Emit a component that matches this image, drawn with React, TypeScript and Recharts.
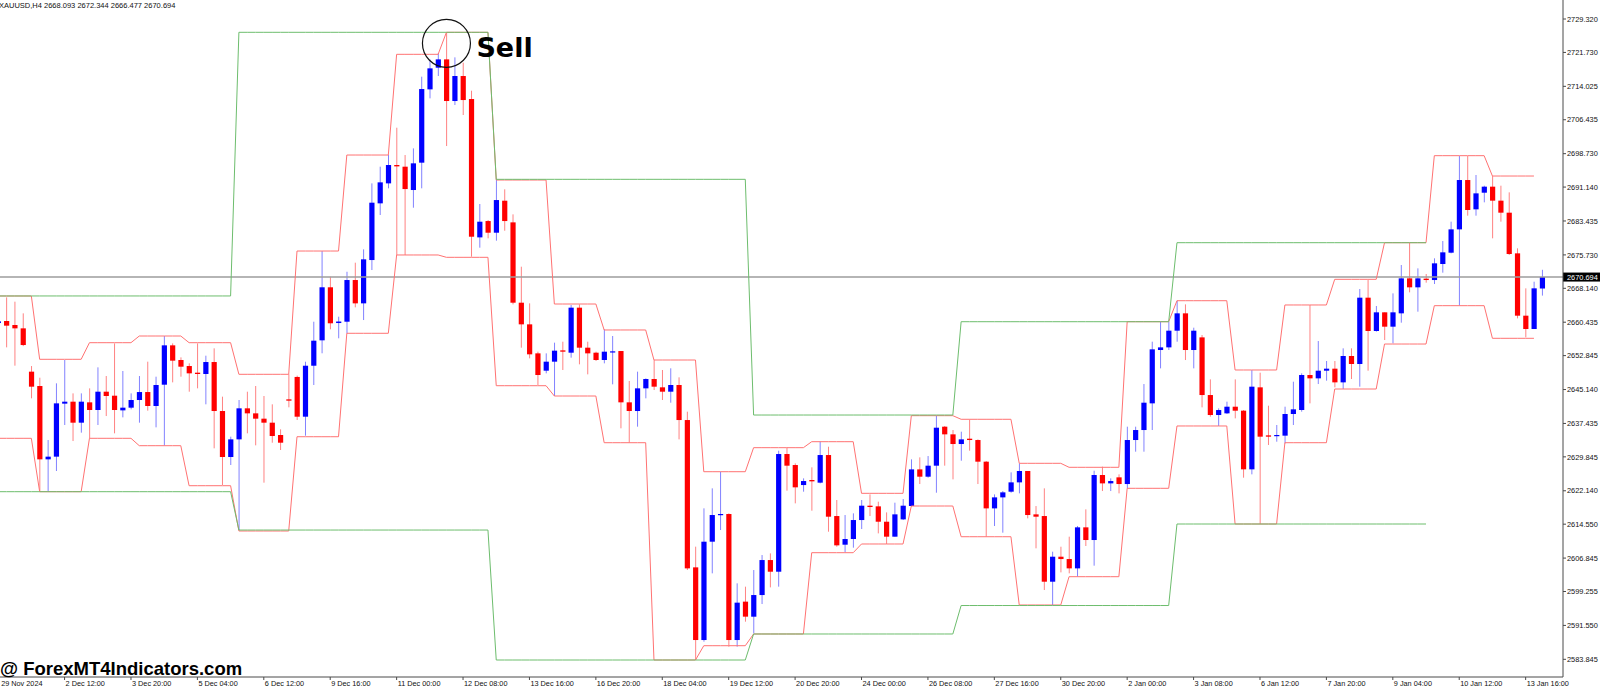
import React from 'react';
import {
  ComposedChart,
  Bar,
  Line,
  XAxis,
  YAxis,
  ReferenceLine,
  ReferenceDot,
} from 'recharts';

// XAUUSD H4 candles (index 0 = leftmost bar)
const open = [
  2660.25, 2660.71, 2659.8, 2659.04, 2649.2, 2645.94, 2629.28, 2629.89, 2641.93, 2642.38,
  2637.61, 2642.23, 2640.49, 2644.65, 2643.74, 2640.41, 2641.02, 2642.76, 2644.57, 2641.4,
  2646.24, 2655.18, 2651.85, 2650.48, 2648.97, 2648.67, 2651.39, 2640.26, 2629.81, 2633.82,
  2640.87, 2639.73, 2638.52, 2637.61, 2634.81, 2642.91, 2648.0, 2638.97, 2650.55, 2656.32,
  2668.37, 2660.25, 2660.55, 2670.02, 2664.72, 2674.56, 2687.44, 2691.98, 2696.15, 2695.77,
  2690.47, 2696.68, 2713.34, 2718.26, 2720.15, 2710.69, 2716.37, 2711.14, 2679.71, 2683.42,
  2680.77, 2688.04, 2683.12, 2664.87, 2659.95, 2653.36, 2649.42, 2651.47, 2654.04, 2653.51,
  2663.74, 2654.65, 2653.51, 2651.85, 2653.66, 2653.89, 2642.23, 2640.26, 2645.41, 2647.53,
  2645.64, 2644.65, 2646.17, 2638.21, 2604.74, 2588.23, 2610.57, 2616.63, 2616.86, 2588.23,
  2596.95, 2593.53, 2598.45, 2606.4, 2603.75, 2630.49, 2627.99, 2623.44, 2624.58, 2623.98,
  2630.26, 2616.4, 2609.89, 2611.18, 2615.49, 2618.75, 2618.6, 2615.11, 2611.71, 2615.64,
  2618.68, 2627.0, 2625.34, 2627.84, 2636.7, 2634.96, 2632.76, 2633.97, 2633.67, 2628.75,
  2618.14, 2620.64, 2621.93, 2624.05, 2626.63, 2616.78, 2616.4, 2601.48, 2607.16, 2606.63,
  2604.51, 2613.83, 2610.95, 2625.72, 2623.82, 2625.19, 2623.67, 2633.67, 2635.94, 2642.0,
  2654.12, 2654.72, 2658.51, 2662.45, 2654.12, 2656.99, 2643.89, 2639.35, 2639.73, 2641.24,
  2640.34, 2627.01, 2645.64, 2634.73, 2634.58, 2634.66, 2639.58, 2640.49, 2648.44, 2647.68,
  2649.42, 2649.88, 2646.77, 2652.76, 2650.94, 2666.01, 2658.44, 2662.68, 2659.42, 2662.45,
  2670.4, 2668.36, 2670.33, 2670.02, 2673.66, 2676.23, 2681.53, 2692.74, 2686.08, 2689.86,
  2691.23, 2688.05, 2685.32, 2676.08, 2661.92, 2658.89, 2668.093,
];

const high = [
  2661.54, 2666.08, 2665.1, 2662.45, 2650.48, 2647.83, 2633.67, 2646.55, 2651.85, 2644.27,
  2644.27, 2645.41, 2650.18, 2648.21, 2655.63, 2649.35, 2644.27, 2648.21, 2651.47, 2648.06,
  2657.3, 2655.63, 2652.45, 2651.09, 2655.63, 2652.83, 2654.5, 2643.52, 2634.43, 2642.76,
  2644.65, 2645.94, 2643.67, 2641.78, 2636.1, 2648.6, 2648.3, 2651.46, 2660.55, 2676.61,
  2670.77, 2661.69, 2671.9, 2673.96, 2676.99, 2691.98, 2695.77, 2698.42, 2704.63, 2698.42,
  2699.93, 2716.22, 2720.15, 2721.52, 2726.29, 2720.61, 2719.4, 2713.03, 2687.29, 2683.65,
  2692.89, 2690.63, 2684.94, 2673.05, 2664.72, 2653.74, 2653.36, 2655.79, 2656.01, 2664.34,
  2664.49, 2656.01, 2653.74, 2658.82, 2657.3, 2653.89, 2647.08, 2649.2, 2647.68, 2651.85,
  2649.58, 2649.96, 2647.91, 2640.11, 2609.44, 2618.15, 2622.69, 2626.48, 2617.01, 2601.11,
  2600.35, 2604.13, 2607.54, 2607.92, 2631.24, 2631.93, 2628.37, 2624.96, 2627.46, 2633.29,
  2632.15, 2620.04, 2616.63, 2617.01, 2620.04, 2621.32, 2619.66, 2617.23, 2619.43, 2620.26,
  2629.28, 2629.73, 2630.03, 2639.2, 2636.85, 2635.94, 2635.56, 2638.36, 2633.82, 2628.9,
  2621.32, 2622.08, 2626.32, 2628.37, 2626.63, 2618.67, 2622.69, 2608.3, 2609.43, 2611.71,
  2614.13, 2617.92, 2626.7, 2627.61, 2624.96, 2625.87, 2636.7, 2636.7, 2646.39, 2656.01,
  2660.55, 2660.55, 2665.32, 2664.49, 2659.19, 2657.52, 2647.45, 2640.86, 2642.38, 2647.45,
  2640.49, 2649.57, 2648.97, 2641.47, 2637.08, 2641.24, 2646.92, 2648.82, 2664.34, 2656.16,
  2651.62, 2651.62, 2654.5, 2654.5, 2667.98, 2670.02, 2664.12, 2662.68, 2666.99, 2673.43,
  2678.5, 2672.67, 2671.39, 2674.95, 2678.88, 2683.28, 2698.19, 2698.19, 2693.88, 2691.45,
  2693.65, 2691.45, 2689.94, 2677.22, 2668.13, 2669.64, 2672.344,
];

const low = [
  2659.27, 2654.72, 2650.56, 2655.0, 2643.14, 2621.93, 2621.93, 2626.63, 2637.08, 2633.44,
  2635.34, 2634.05, 2637.08, 2639.12, 2635.19, 2638.82, 2640.64, 2637.61, 2640.34, 2636.55,
  2632.38, 2646.77, 2648.06, 2644.65, 2645.41, 2641.78, 2631.78, 2623.45, 2627.99, 2613.22,
  2635.19, 2632.46, 2623.98, 2633.06, 2631.4, 2641.1, 2638.22, 2634.65, 2646.17, 2653.37,
  2658.82, 2656.78, 2657.91, 2663.81, 2660.93, 2672.29, 2684.79, 2690.85, 2675.7, 2675.7,
  2686.45, 2690.85, 2711.29, 2716.37, 2700.46, 2709.78, 2707.51, 2675.32, 2677.37, 2679.49,
  2678.96, 2681.22, 2664.49, 2654.65, 2652.22, 2646.17, 2648.82, 2643.67, 2649.58, 2652.38,
  2650.86, 2648.59, 2651.62, 2651.09, 2646.32, 2636.33, 2633.07, 2636.7, 2643.14, 2645.03,
  2642.76, 2642.15, 2633.82, 2604.14, 2583.69, 2587.86, 2603.38, 2613.22, 2586.72, 2586.72,
  2592.4, 2589.74, 2596.41, 2600.19, 2600.35, 2622.16, 2619.28, 2621.93, 2617.61, 2623.82,
  2612.84, 2609.43, 2608.15, 2609.21, 2613.45, 2616.4, 2612.46, 2610.04, 2611.71, 2615.49,
  2618.6, 2623.67, 2625.11, 2621.7, 2627.84, 2624.73, 2628.97, 2631.24, 2623.67, 2611.71,
  2614.13, 2612.62, 2621.7, 2621.55, 2615.87, 2609.06, 2599.59, 2596.18, 2603.6, 2603.38,
  2602.62, 2609.59, 2605.12, 2622.08, 2622.08, 2621.55, 2622.7, 2631.02, 2631.02, 2635.94,
  2649.95, 2654.12, 2656.01, 2651.84, 2649.95, 2641.09, 2638.97, 2636.85, 2639.58, 2638.59,
  2625.11, 2625.87, 2614.59, 2632.54, 2633.29, 2632.91, 2637.08, 2640.11, 2642.0, 2646.39,
  2647.15, 2645.64, 2645.26, 2647.53, 2645.79, 2649.42, 2658.29, 2656.39, 2655.63, 2660.33,
  2667.22, 2662.83, 2669.42, 2669.11, 2671.69, 2676.08, 2664.19, 2684.64, 2684.64, 2687.67,
  2679.49, 2683.28, 2675.7, 2661.31, 2657.0, 2658.89, 2666.477,
];

const close = [
  2660.63, 2659.65, 2659.04, 2655.25, 2645.79, 2629.28, 2629.89, 2642.0, 2642.38, 2637.61,
  2642.38, 2640.49, 2644.65, 2643.67, 2640.49, 2641.02, 2642.76, 2644.57, 2641.4, 2646.17,
  2655.18, 2651.7, 2650.33, 2648.82, 2648.67, 2651.39, 2640.26, 2629.81, 2633.82, 2640.87,
  2639.73, 2638.52, 2637.61, 2634.58, 2633.06, 2642.61, 2638.97, 2650.55, 2656.24, 2668.37,
  2660.19, 2660.59, 2670.02, 2664.72, 2674.72, 2687.59, 2692.21, 2696.15, 2695.84, 2690.69,
  2696.53, 2713.41, 2718.11, 2720.15, 2710.69, 2716.37, 2710.91, 2679.86, 2683.27, 2680.77,
  2688.19, 2683.42, 2664.87, 2659.95, 2653.14, 2648.44, 2651.47, 2653.97, 2653.74, 2663.74,
  2654.65, 2653.36, 2651.85, 2653.74, 2653.82, 2642.23, 2640.26, 2645.41, 2647.53, 2645.79,
  2644.65, 2646.17, 2638.21, 2604.51, 2588.23, 2610.57, 2616.63, 2616.86, 2588.23, 2596.72,
  2593.54, 2598.45, 2606.4, 2603.75, 2630.49, 2627.84, 2622.92, 2624.35, 2624.28, 2630.26,
  2616.25, 2609.74, 2611.18, 2615.49, 2618.75, 2618.45, 2615.11, 2611.71, 2616.78, 2618.75,
  2627.0, 2625.34, 2627.84, 2636.47, 2634.96, 2632.76, 2633.82, 2633.67, 2628.75, 2618.14,
  2620.64, 2621.78, 2624.05, 2626.63, 2616.63, 2616.25, 2601.48, 2607.16, 2606.63, 2604.51,
  2613.83, 2610.95, 2625.72, 2623.82, 2624.35, 2623.67, 2633.67, 2635.94, 2642.15, 2654.27,
  2654.72, 2658.51, 2662.45, 2654.12, 2658.51, 2643.89, 2639.35, 2640.48, 2641.24, 2640.33,
  2627.01, 2645.79, 2634.43, 2634.43, 2634.81, 2639.58, 2640.64, 2648.44, 2647.68, 2649.42,
  2649.88, 2646.77, 2652.76, 2650.94, 2666.01, 2658.44, 2662.68, 2659.42, 2662.68, 2670.4,
  2668.36, 2670.4, 2670.02, 2673.81, 2676.31, 2681.53, 2692.74, 2685.93, 2689.71, 2691.23,
  2688.05, 2685.32, 2675.93, 2661.92, 2658.89, 2668.13, 2670.694,
];

// daily high / low channel (red): bars per day, then the level for that day
const dayBars = [5, 6, 6, 6, 6, 7, 6, 6, 6, 6, 7, 6, 6, 6, 6, 7, 6, 6, 6, 7, 6, 7, 6, 7, 6, 6, 6, 6, 7, 6];
const dayHigh = [
  2666.39, 2652.01, 2655.78, 2657.3, 2655.78, 2648.6, 2676.61, 2698.42, 2721.3, 2726.3,
  2692.74, 2664.57, 2658.67, 2651.85, 2626.47, 2631.93, 2633.29, 2621.56, 2639.2, 2638.38,
  2628.38, 2627.47, 2660.55, 2665.32, 2649.58, 2664.35, 2670.18, 2678.5, 2698.27, 2693.65,
];
const dayLow = [
  2634.06, 2621.93, 2634.06, 2632.38, 2623.29, 2613.0, 2634.42, 2657.92, 2675.71, 2675.18,
  2646.01, 2643.67, 2633.06, 2583.69, 2586.94, 2589.6, 2608.07, 2610.05, 2618.68, 2611.7,
  2596.19, 2602.62, 2622.7, 2636.86, 2614.59, 2633.06, 2645.26, 2655.48, 2664.19, 2656.78,
];

// weekly high / low channel (green)
const weekBars = [29, 31, 31, 25, 26, 31];
const weekHigh = [2666.4, 2726.3, 2692.9, 2639.35, 2660.55, 2678.5];
const weekLow = [2621.93, 2613.22, 2583.69, 2589.6, 2596.07, 2614.59];

const priceTicks = [
  2583.845, 2591.55, 2599.255, 2606.845, 2614.55, 2622.14, 2629.845, 2637.435, 2645.14, 2652.845,
  2660.435, 2668.14, 2675.73, 2683.435, 2691.14, 2698.73, 2706.435, 2714.025, 2721.73, 2729.32,
];

const timeTickBars = [0, 8, 16, 24, 32, 40, 48, 56, 64, 72, 80, 88, 96, 104, 112, 120, 128, 136, 144, 152, 160, 168, 176, 184];
const timeTickText = [
  '29 Nov 2024', '2 Dec 12:00', '3 Dec 20:00', '5 Dec 04:00', '6 Dec 12:00', '9 Dec 16:00',
  '11 Dec 00:00', '12 Dec 08:00', '13 Dec 16:00', '16 Dec 20:00', '18 Dec 04:00', '19 Dec 12:00',
  '20 Dec 20:00', '24 Dec 00:00', '26 Dec 08:00', '27 Dec 16:00', '30 Dec 20:00', '2 Jan 00:00',
  '3 Jan 08:00', '6 Jan 12:00', '7 Jan 20:00', '9 Jan 04:00', '10 Jan 12:00', '13 Jan 16:00',
];

const lastPrice = 2670.694;
const sellBar = 54;
const sellLevel = 2723.8;
const slotCount = 189; // two empty slots of chart shift on the right

const FONT = "'Liberation Sans', Arial, sans-serif";
const AXIS = '#4a4a4a';

const expand = (lens: number[], vals: number[]) => {
  const out: number[] = [];
  lens.forEach((n, k) => {
    for (let j = 0; j < n; j++) out.push(vals[k]);
  });
  return out;
};

const dUp = expand(dayBars, dayHigh);
const dDn = expand(dayBars, dayLow);
const wUp = expand(weekBars, weekHigh);
const wDn = expand(weekBars, weekLow);

const rows = Array.from({ length: slotCount }, (_, i) => ({
  i,
  o: open[i] ?? null,
  h: high[i] ?? null,
  l: low[i] ?? null,
  c: close[i] ?? null,
  ru: dUp[i] ?? null,
  rl: dDn[i] ?? null,
  gu: wUp[i] ?? null,
  gl: wDn[i] ?? null,
}));

const Candle = (props: any) => {
  const { x, y, width, height, payload } = props;
  if (payload == null || payload.h == null) return null;
  const { o, h, l, c } = payload;
  const top = Math.min(y, y + height);
  const hgt = Math.abs(height);
  const span = h - l || 1;
  const yOf = (v: number) => top + ((h - v) / span) * hgt;
  const up = c >= o;
  const cx = x + width / 2;
  const bTop = yOf(Math.max(o, c));
  const bBot = yOf(Math.min(o, c));
  return (
    <g>
      <line x1={cx} x2={cx} y1={top} y2={top + hgt} stroke={up ? '#8282ff' : '#ff8282'} strokeWidth={1} />
      <rect x={cx - 2.6} y={bTop} width={5.2} height={Math.max(bBot - bTop, 1.2)} fill={up ? '#0000ff' : '#ff0000'} />
    </g>
  );
};

const PriceTick = (props: any) => {
  const { x, y, payload } = props;
  return (
    <g>
      <line x1={x} x2={x + 3} y1={y} y2={y} stroke={AXIS} />
      <text x={x + 4} y={y + 2.7} fontSize={7.4} fill="#111" fontFamily={FONT}>
        {Number(payload.value).toFixed(3)}
      </text>
    </g>
  );
};

const TimeTick = (props: any) => {
  const { x, y, payload } = props;
  const k = timeTickBars.indexOf(Number(payload.value));
  if (k < 0) return null;
  const first = k === 0;
  return (
    <g>
      {!first && <line x1={x} x2={x} y1={y} y2={y + 3} stroke={AXIS} />}
      <text x={first ? x + 3 : x + 1} y={y + 9.4} fontSize={7.3} fill="#111" fontFamily={FONT}>
        {timeTickText[k]}
      </text>
    </g>
  );
};

const LastPriceTag = (props: any) => {
  const vb = props.viewBox;
  if (!vb) return null;
  const x = vb.x + vb.width;
  const y = vb.y;
  return (
    <g>
      <rect x={x} y={y - 4.5} width={37} height={9} fill="#000" />
      <text x={x + 4} y={y + 2.7} fontSize={7.4} fill="#fff" fontFamily={FONT}>
        {lastPrice.toFixed(3)}
      </text>
    </g>
  );
};

const SellLabel = (props: any) => {
  const vb = props.viewBox;
  if (!vb) return null;
  return (
    <text
      x={vb.x + vb.width + 6}
      y={vb.y + vb.height / 2 + 14}
      fontSize={27}
      fontWeight="bold"
      fill="#000"
      fontFamily="'DejaVu Sans', sans-serif"
    >
      Sell
    </text>
  );
};

export default function App() {
  return (
    <div style={{ position: 'absolute', left: -6, top: 0, width: 1606, height: 688, background: '#fff' }}>
      <ComposedChart width={1606} height={688} data={rows} margin={{ top: 0, right: 0, bottom: 0, left: 0 }}>
        <XAxis
          dataKey="i"
          type="category"
          height={11}
          interval={0}
          ticks={timeTickBars}
          tick={<TimeTick />}
          tickLine={false}
          tickSize={0}
          tickMargin={0}
          axisLine={{ stroke: AXIS }}
        />
        <YAxis
          orientation="right"
          width={37}
          domain={[2579.83, 2733.64]}
          allowDataOverflow
          ticks={priceTicks}
          interval={0}
          tick={<PriceTick />}
          tickLine={false}
          tickSize={0}
          tickMargin={0}
          axisLine={{ stroke: AXIS }}
        />
        <ReferenceLine y={lastPrice} stroke="#9c9c9c" strokeWidth={1.6} label={<LastPriceTag />} />
        <Bar
          dataKey={(d: any) => (d.h == null ? null : [d.l, d.h])}
          shape={<Candle />}
          isAnimationActive={false}
        />
        <Line type="linear" dataKey="ru" stroke="#ff7272" strokeWidth={1} dot={false} activeDot={false} isAnimationActive={false} />
        <Line type="linear" dataKey="rl" stroke="#ff7272" strokeWidth={1} dot={false} activeDot={false} isAnimationActive={false} />
        <Line type="linear" dataKey="gu" stroke="#6dbd6d" strokeWidth={1} dot={false} activeDot={false} isAnimationActive={false} />
        <Line type="linear" dataKey="gl" stroke="#6dbd6d" strokeWidth={1} dot={false} activeDot={false} isAnimationActive={false} />
        <ReferenceDot
          x={sellBar}
          y={sellLevel}
          r={24}
          fill="none"
          stroke="#111"
          strokeWidth={1.2}
          ifOverflow="visible"
          label={<SellLabel />}
        />
      </ComposedChart>
      <svg
        width={1600}
        height={688}
        style={{ position: 'absolute', left: 6, top: 0, pointerEvents: 'none' }}
      >
        <text x={-1} y={8.4} fontSize={7.5} fill="#111" fontFamily={FONT}>
          XAUUSD,H4  2668.093 2672.344 2666.477 2670.694
        </text>
        <text x={0} y={674.5} fontSize={18.5} fontWeight="bold" fill="#000" fontFamily={FONT}>
          @ ForexMT4Indicators.com
        </text>
      </svg>
    </div>
  );
}
